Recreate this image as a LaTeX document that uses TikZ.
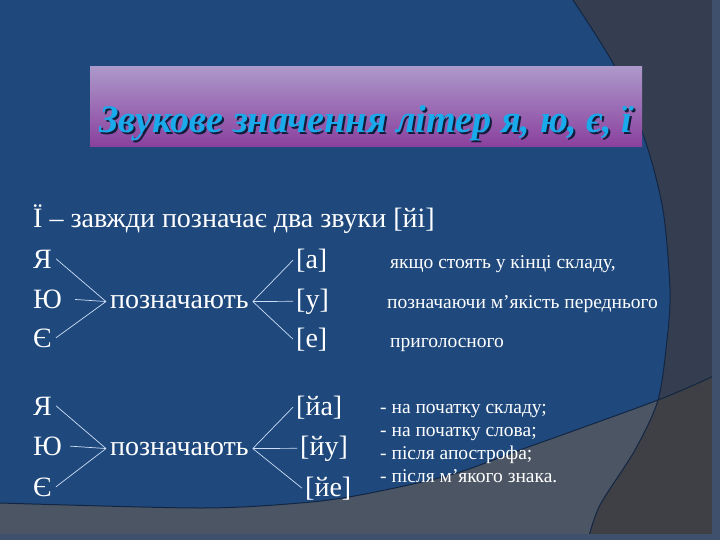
\documentclass[tikz,border=0pt]{standalone}
\usepackage{fontspec}
\usepackage{graphicx}
\setmainfont{Liberation Serif}
\definecolor{slideblue}{RGB}{31,73,125}
\definecolor{sidegray}{RGB}{52,62,80}
\definecolor{footgray}{RGB}{75,85,100}
\definecolor{cornergray}{RGB}{62,64,70}
\definecolor{rimblue}{RGB}{62,80,108}
\definecolor{edgenavy}{RGB}{18,38,68}
\definecolor{titlecyan}{RGB}{25,170,235}
\definecolor{titleshade}{RGB}{20,28,60}
\definecolor{linkblue}{RGB}{205,222,245}
\newcommand{\titletext}{\resizebox{533pt}{\height}{Звукове значення літер я, ю, є, ї}}

\begin{document}
\begin{tikzpicture}[x=1pt,y=-1pt]
        \tikzstyle{bigtxt} = [inner sep=0pt, anchor=base west, text=white, font=\fontsize{28}{28}\selectfont]
        \tikzstyle{letter} = [bigtxt, inner sep=4pt]
        \tikzstyle{sound} = [bigtxt, inner sep=3pt]
        \tikzstyle{note} = [inner sep=0pt, anchor=base west, text=white, font=\fontsize{19.5}{19.5}\selectfont]
        \tikzstyle{link} = [linkblue, line width=0.7pt]
        \useasboundingbox (0,0) rectangle (720,540);
        % background of the slide
        \fill[slideblue] (0,0) rectangle (720,540);
        \fill[footgray] plot[smooth] coordinates {(0,503) (200,508) (300,503) (360,495) (450,475) (520,450) (658,400) (720,373)} -- (720,540) -- (0,540) -- cycle;
        \fill[sidegray] plot[smooth] coordinates {(573,0) (615,67) (645,140) (663,210) (670,290) (667,340) (658,400) (635,450) (600,505) (588,540)} -- (720,540) -- (720,0) -- cycle;
        \begin{scope}
            \clip plot[smooth] coordinates {(573,0) (615,67) (645,140) (663,210) (670,290) (667,340) (658,400) (635,450) (600,505) (588,540)} -- (720,540) -- (720,0) -- cycle;
            \fill[cornergray] plot[smooth] coordinates {(0,503) (200,508) (300,503) (360,495) (450,475) (520,450) (658,400) (720,373)} -- (720,540) -- (0,540) -- cycle;
        \end{scope}
        \draw[edgenavy, line width=1pt] plot[smooth] coordinates {(0,503) (200,508) (300,503) (360,495) (450,475) (520,450) (658,400) (720,373)};
        \draw[edgenavy, line width=1pt] plot[smooth] coordinates {(573,0) (615,67) (645,140) (663,210) (670,290) (667,340) (658,400) (635,450) (600,505) (588,540)};
        \fill[rimblue] (712,0) rectangle (720,540);
        \fill[rimblue] (0,534) rectangle (720,540);
        % title bar, text with its shadow
        \shade[top color={rgb,255:red,172;green,152;blue,202}, middle color={rgb,255:red,112;green,72;blue,132}, bottom color={rgb,255:red,138;green,64;blue,158}] (90,67) rectangle (642,147);
        \node[inner sep=0pt, anchor=base, font=\fontsize{39}{39}\selectfont\bfseries\itshape] (title) at (366,133) {\rlap{\hspace{2pt}\raisebox{-2pt}{\color{titleshade}\titletext}}\color{titlecyan}\titletext};
        % first line
        \node[bigtxt] (yi) at (33,228) {Ї – завжди позначає два звуки [йі]};
        % upper group
        \node[letter] (ya1) at (29,268) {Я};
        \node[letter] (yu1) at (29,308) {Ю};
        \node[letter] (ye1) at (29,347) {Є};
        \node[letter] (poz1) at (106,308) {позначають};
        \node[sound] (a1) at (293,268) {[а]};
        \node[sound] (u1) at (293,308) {[у]};
        \node[sound] (e1) at (293,347) {[е]};
        \draw[link] (ya1.east) -- (poz1.west);
        \draw[link, shorten <=9pt] (yu1.east) -- (poz1.west);
        \draw[link] (ye1.east) -- (poz1.west);
        \draw[link] (poz1.east) -- (a1.west);
        \draw[link] (poz1.east) -- (u1.west);
        \draw[link] (poz1.east) -- (e1.west);
        \node[note] (n1) at (390,268) {якщо стоять у кінці складу,};
        \node[note] (n2) at (387,308) {позначаючи м’якість переднього};
        \node[note] (n3) at (390,347) {приголосного};
        % lower group
        \node[letter] (ya2) at (29,415) {Я};
        \node[letter] (yu2) at (29,455) {Ю};
        \node[letter] (ye2) at (29,496) {Є};
        \node[letter] (poz2) at (106,455) {позначають};
        \node[sound] (a2) at (293,415) {[йа]};
        \node[sound] (u2) at (297,455) {[йу]};
        \node[sound] (e2) at (302,496) {[йе]};
        \draw[link] (ya2.east) -- (poz2.west);
        \draw[link, shorten <=4pt] (yu2.east) -- (poz2.west);
        \draw[link] (ye2.east) -- (poz2.west);
        \draw[link] (poz2.east) -- (a2.west);
        \draw[link] (poz2.east) -- (u2.west);
        \draw[link] (poz2.east) -- (e2.west);
        \node[note] (d1) at (380,413) {- на початку складу;};
        \node[note] (d2) at (380,436) {- на початку слова;};
        \node[note] (d3) at (380,459) {- після апострофа;};
        \node[note] (d4) at (380,482) {- після м’якого знака.};
    \end{tikzpicture}
\end{document}
